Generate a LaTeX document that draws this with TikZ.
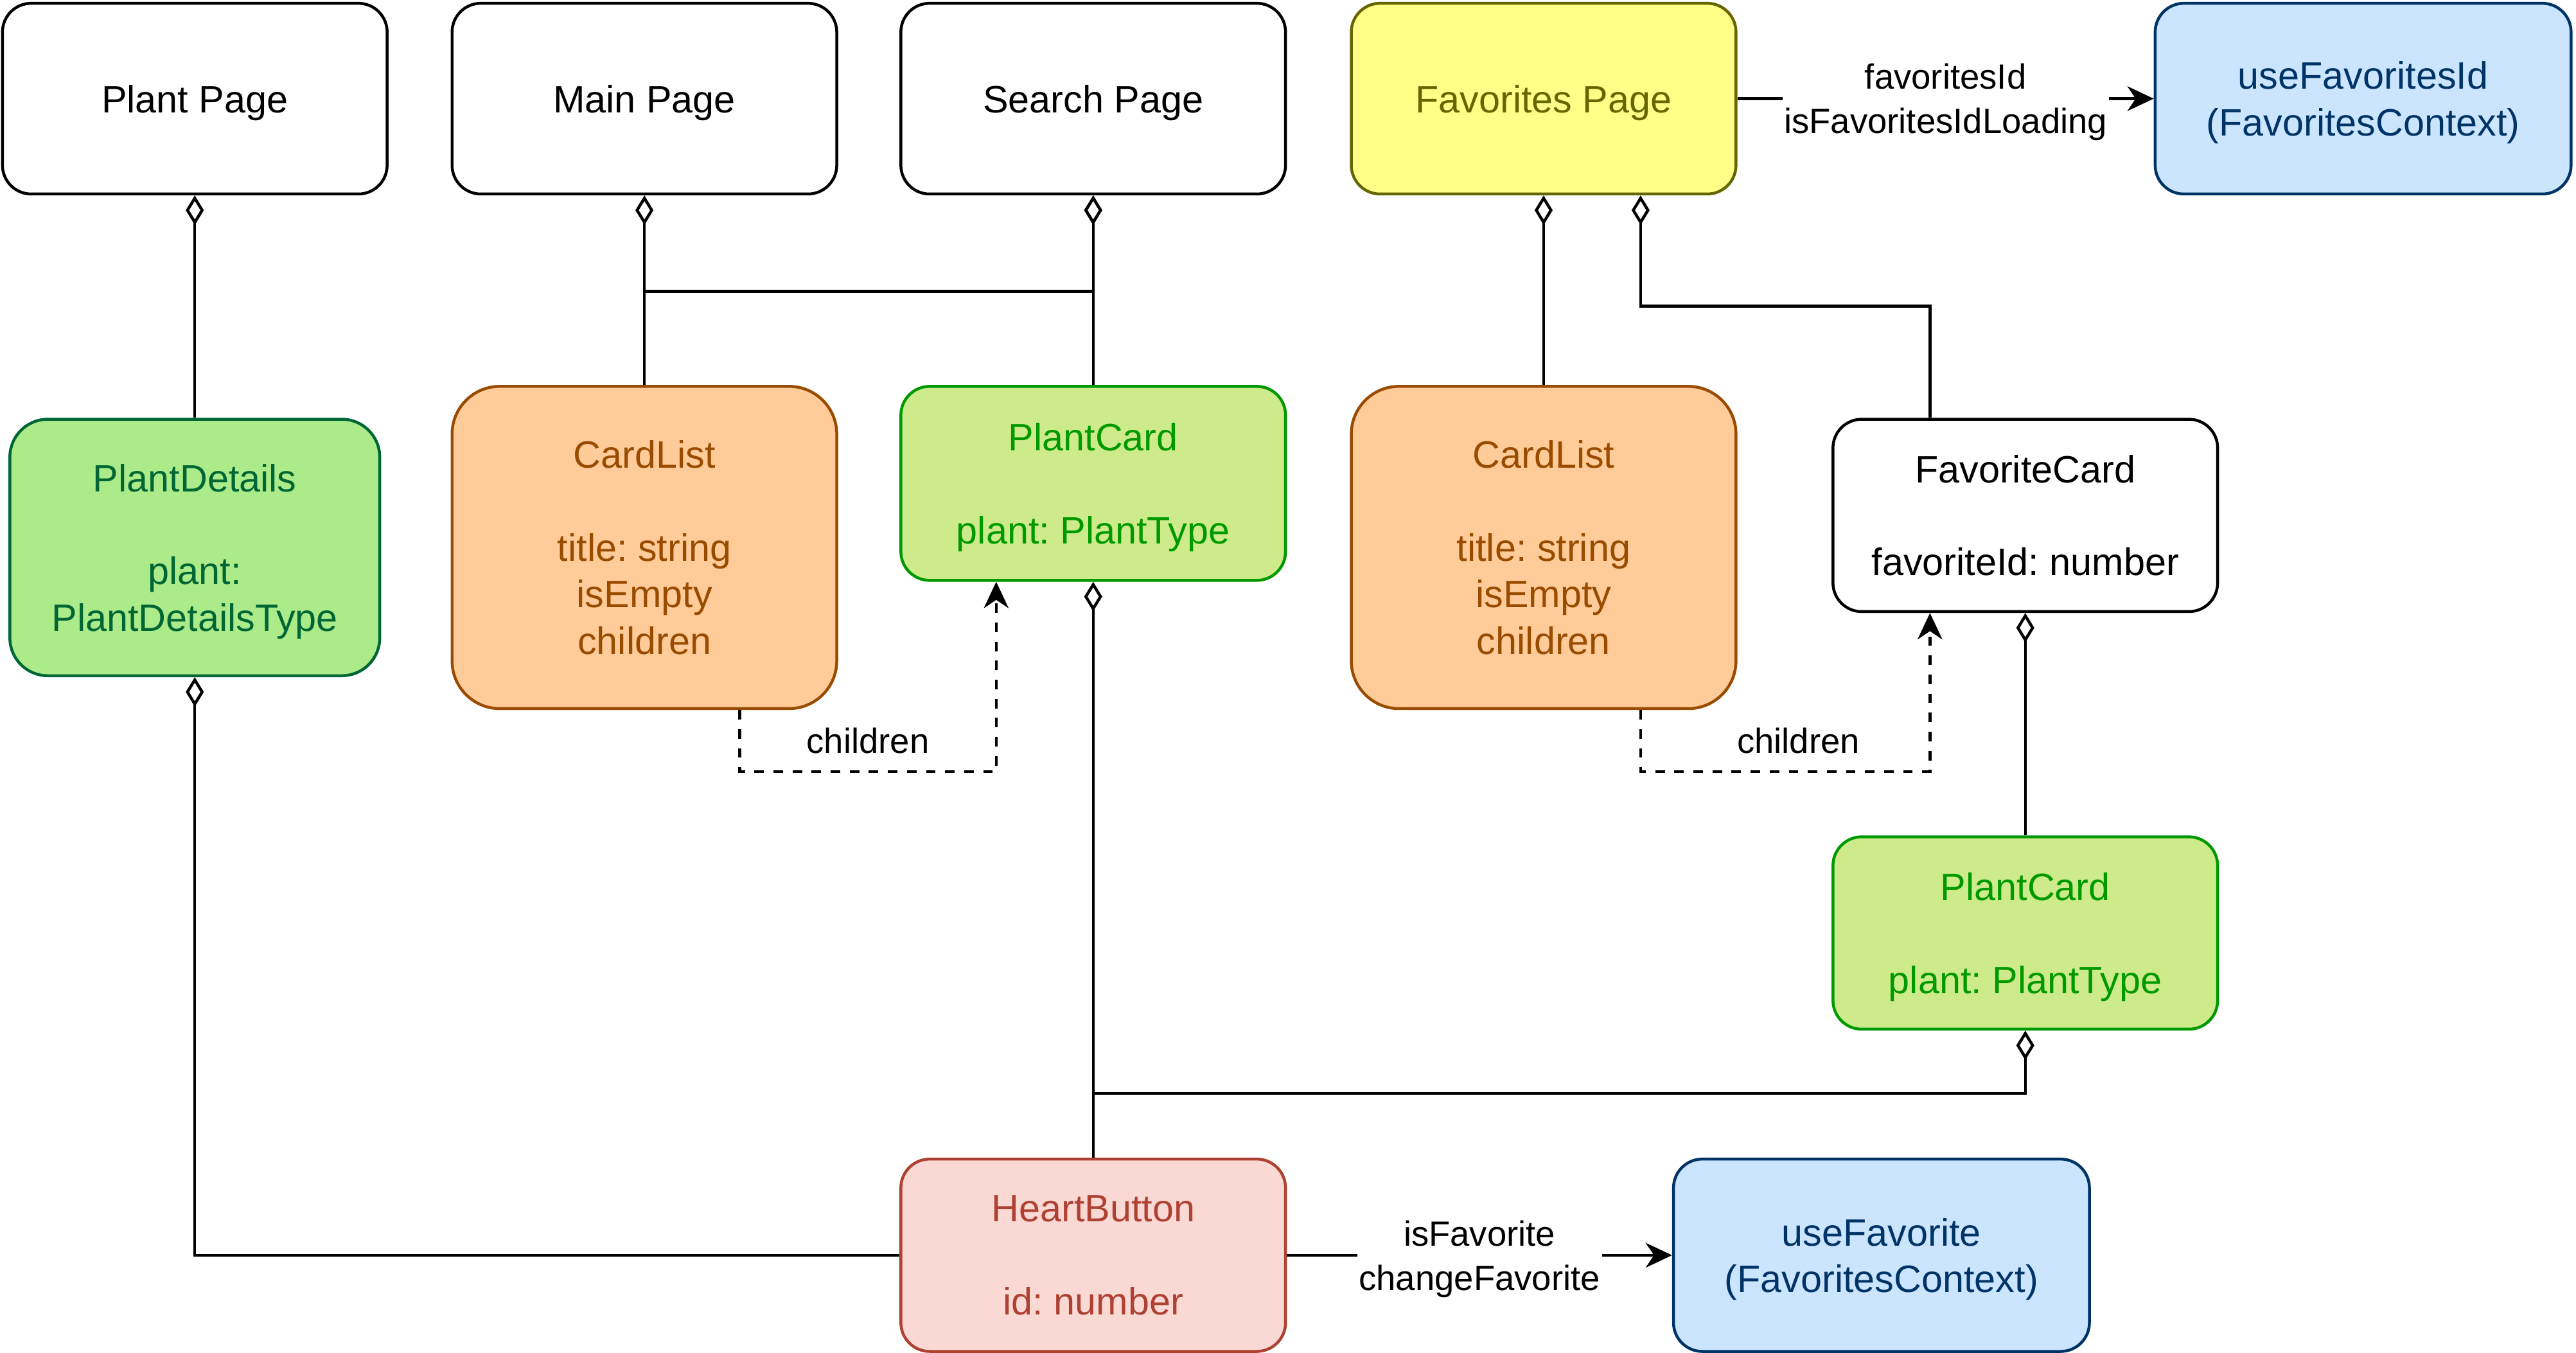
\documentclass[tikz,border=0pt]{standalone}
\usepackage{fontspec}
\setmainfont{Liberation Sans}
\usetikzlibrary{arrows.meta}
\definecolor{cOliveFill}{HTML}{FFFF88}
\definecolor{cOlive}{HTML}{666600}
\definecolor{cBlueFill}{HTML}{CCE5FF}
\definecolor{cBlue}{HTML}{003366}
\definecolor{cDetFill}{HTML}{ABEB8A}
\definecolor{cDet}{HTML}{006633}
\definecolor{cListFill}{HTML}{FFCC99}
\definecolor{cList}{HTML}{994C00}
\definecolor{cCardFill}{HTML}{CDEB8B}
\definecolor{cCard}{HTML}{009900}
\definecolor{cHeartFill}{HTML}{FAD9D5}
\definecolor{cHeart}{HTML}{AE4132}
\newcommand\nodesc[1]{\raisebox{0pt}[\height][0pt]{#1}}
\begin{document}
\frenchspacing
\begin{tikzpicture}[x=1pt, y=-1pt,
  box/.style={draw, line width=1.75pt, inner sep=0pt, align=center,
    font=\fontsize{23.2}{28.3}\selectfont, minimum width=234pt,
    minimum height=116pt, rounded corners=17.5pt},
  whitebox/.style={box, fill=white, draw=black, text=black},
  favbox/.style={box, fill=cOliveFill, draw=cOlive, text=cOlive},
  bluebox/.style={box, fill=cBlueFill, draw=cBlue, text=cBlue},
  detbox/.style={box, fill=cDetFill, draw=cDet, text=cDet},
  listbox/.style={box, fill=cListFill, draw=cList, text=cList},
  cardbox/.style={box, fill=cCardFill, draw=cCard, text=cCard},
  heartbox/.style={box, fill=cHeartFill, draw=cHeart, text=cHeart},
  elbl/.style={font=\fontsize{21.3}{27}\selectfont, align=center, inner sep=1pt, text=black},
  edge/.style={line width=1.75pt, draw=black},
  agg/.style={edge, -{Diamond[length=18pt,width=11pt,fill=white]}},
  flow/.style={edge, -{Stealth[length=16pt,width=15pt,inset=5pt]}},
  dep/.style={flow, dash pattern=on 5.8pt off 5.8pt}]

\fill[white] (0,0) rectangle (1567,822.6);
\useasboundingbox (0,0) rectangle (1567,822.6);

% nodes
\node[whitebox] (plantpage) at (118.5,60) {\nodesc{Plant Page}};
\node[whitebox] (mainpage) at (392,60) {\nodesc{Main Page}};
\node[whitebox] (searchpage) at (665,60) {\nodesc{Search Page}};
\node[favbox] (favpage) at (939,60) {\nodesc{Favorites Page}};
\node[bluebox, minimum width=253pt] (usefavid) at (1437.5,60) {useFavoritesId\\\nodesc{(FavoritesContext)}};

\node[detbox, minimum width=225pt, minimum height=156pt, rounded corners=23pt] (plantdetails) at (118.5,333)
  {PlantDetails\\\mbox{}\\plant:\\\nodesc{PlantDetailsType}};
\node[listbox, minimum height=196pt, rounded corners=29pt] (cardlist1) at (392,333)
  {CardList\\\mbox{}\\title: string\\isEmpty\\children};
\node[cardbox, minimum height=118pt] (plantcard1) at (665,294)
  {PlantCard\\\mbox{}\\\nodesc{plant: PlantType}};
\node[listbox, minimum height=196pt, rounded corners=29pt] (cardlist2) at (939,333)
  {CardList\\\mbox{}\\title: string\\isEmpty\\children};
\node[whitebox, minimum height=117pt] (favcard) at (1232,313.5)
  {FavoriteCard\\\mbox{}\\favoriteId: number};
\node[cardbox, minimum height=117pt] (plantcard2) at (1232,567.5)
  {PlantCard\\\mbox{}\\\nodesc{plant: PlantType}};
\node[heartbox, minimum height=117pt] (heart) at (665,763.5)
  {HeartButton\\\mbox{}\\id: number};
\node[bluebox, minimum width=253pt, minimum height=117pt] (usefav) at (1144.5,763.5)
  {useFavorite\\\nodesc{(FavoritesContext)}};

% connectors
\draw[agg] (plantdetails.north) -- (plantpage.south);
\draw[agg] (cardlist1.north) -- (mainpage.south);
\draw[agg] (cardlist1.north) -- ++(0,-57) -| (searchpage.south);
\draw[agg] (plantcard1.north) -- (searchpage.south);
\draw[dep] ([xshift=58pt]cardlist1.south) -- ++(0,37.5)
  -| node[elbl, pos=0.25, yshift=19pt] {children} ([xshift=-59pt]plantcard1.south);

\draw[agg] (cardlist2.north) -- (favpage.south);
\draw[agg] ([xshift=-58pt]favcard.north) -- ++(0,-68) -| ([xshift=59pt]favpage.south);
\draw[dep] ([xshift=59pt]cardlist2.south) -- ++(0,37.5)
  -| node[elbl, pos=0.25, yshift=19pt, xshift=8pt] {children} ([xshift=-58pt]favcard.south);
\draw[agg] (plantcard2.north) -- (favcard.south);

\draw[agg] (heart.north) -- (plantcard1.south);
\draw[agg] (heart.north) -- ++(0,-39) -| (plantcard2.south);
\draw[agg] (heart.west) -| (plantdetails.south);

\draw[flow] (heart.east) -- node[elbl, fill=white] {isFavorite\\\nodesc{changeFavorite}} (usefav.west);
\draw[flow] (favpage.east) -- node[elbl, fill=white] {favoritesId\\\nodesc{isFavoritesIdLoading}} (usefavid.west);
\end{tikzpicture}
\end{document}
